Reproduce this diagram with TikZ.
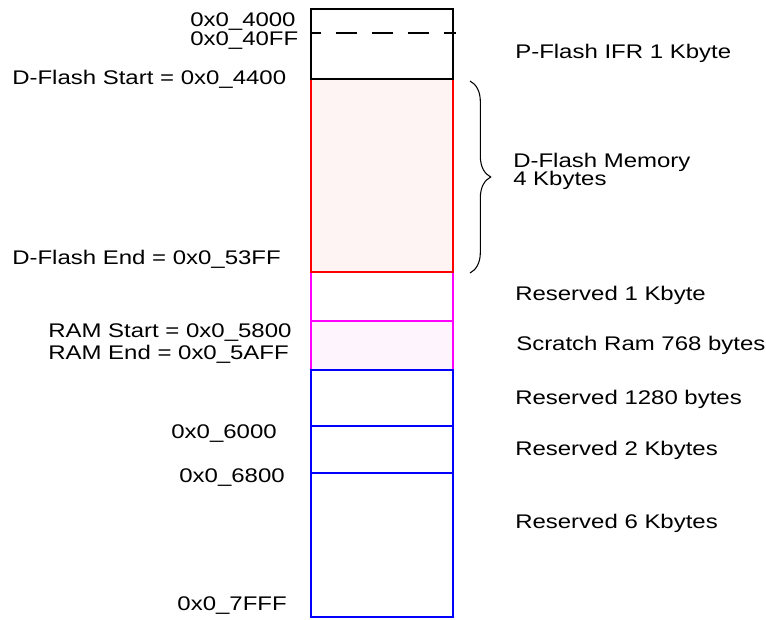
\documentclass[tikz,border=0pt]{standalone}
\usepackage{fontspec}
\setmainfont{Liberation Sans}[FakeStretch=1.215]
\usetikzlibrary{decorations.pathreplacing}
\definecolor{dfill}{RGB}{255,244,244}
\definecolor{rfill}{RGB}{253,244,253}
\definecolor{mag}{RGB}{255,0,255}
\begin{document}
\begin{tikzpicture}[x=0.75pt,y=-0.75pt,
  lbl/.style={inner sep=0pt,font=\fontsize{14.8pt}{17pt}\selectfont},
  lw/.style={lbl,anchor=base west},
  le/.style={lbl,anchor=base east},
  memline/.style={line width=1.5pt}]
\useasboundingbox (0,0) rectangle (766,619);
% magenta (reserved + scratch RAM)
\draw[memline,mag] (311,272) rectangle (453,321);
\draw[memline,mag,fill=rfill] (311,321) rectangle (453,370);
% blue
\draw[memline,blue] (311,370) rectangle (453,617);
\draw[memline,blue] (311,426) -- (453,426);
\draw[memline,blue] (311,473) -- (453,473);
% red D-Flash
\draw[memline,red,fill=dfill] (311,79) rectangle (453,272);
% black P-Flash IFR
\draw[memline,black] (311,9) rectangle (453,79);
\draw[memline,black,dash pattern=on 16.1pt off 10.9pt,dash phase=8.6pt] (311,33) -- (456,33);
% brace
\draw[line width=0.8pt,decorate,decoration={brace,amplitude=15.5pt}] (470,81) -- (470,273);
% left labels
\node[lw] (a4000) at (190,26) {0x0\_4000};
\node[lw] (a40ff) at (190,45) {0x0\_40FF};
\node[lw] (dfs) at (12,84.5) {D-Flash Start = 0x0\_4400};
\node[lw] (dfe) at (12,264) {D-Flash End = 0x0\_53FF};
\node[lw] (rs) at (48,337) {RAM Start = 0x0\_5800};
\node[lw] (re) at (48,359) {RAM End = 0x0\_5AFF};
\node[le] (a6000) at (277,438) {0x0\_6000};
\node[le] (a6800) at (285,482) {0x0\_6800};
\node[le] (a7fff) at (287,610) {0x0\_7FFF};
% right labels
\node[lw] (pifr) at (515,58) {P-Flash IFR 1 Kbyte};
\node[lw] (dfm) at (513,167) {D-Flash Memory};
\node[lw] (dfk) at (513,185) {4 Kbytes};
\node[lw] (r1k) at (515,300.5) {Reserved 1 Kbyte};
\node[lw] (sram) at (516,350) {Scratch Ram 768 bytes};
\node[lw] (r1280) at (515,404) {Reserved 1280 bytes};
\node[lw] (r2k) at (515,455) {Reserved 2 Kbytes};
\node[lw] (r6k) at (515,528) {Reserved 6 Kbytes};
\end{tikzpicture}
\end{document}
